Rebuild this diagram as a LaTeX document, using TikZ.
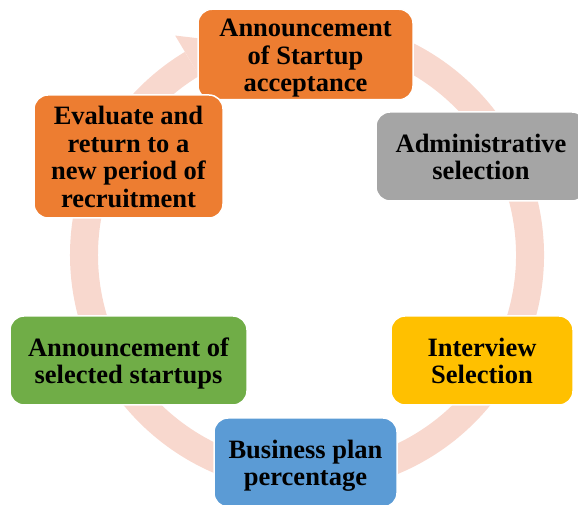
\documentclass[tikz,border=0pt]{standalone}
\usepackage{fontspec}
\setmainfont{Liberation Serif}
\usetikzlibrary{calc}
\definecolor{ringc}{RGB}{248,216,206}
\definecolor{c1}{RGB}{237,125,49}
\definecolor{c2}{RGB}{165,165,165}
\definecolor{c3}{RGB}{255,192,0}
\definecolor{c4}{RGB}{91,155,213}
\definecolor{c5}{RGB}{112,173,71}
\newcommand\mytopstrut{\rule{0pt}{27.5pt}}
\newcommand\mybotstrut{\rule[-8pt]{0pt}{8pt}}
\tikzset{
  stepbox/.style={rectangle, rounded corners=14pt, draw=white, line width=1.5pt,
    inner sep=0pt, align=center, minimum height=89pt,
    font=\bfseries\fontsize{26.5}{27.5}\selectfont, text=black},
  ring/.style={draw=ringc, line width=28pt}
}
\begin{document}
\begin{tikzpicture}[x=1pt,y=1pt]
\useasboundingbox (0,0) rectangle (578,505);
\coordinate (c) at (307,250);
% ring with arrow head
\draw[ring] ($(c)+(100:223pt)$) arc[start angle=100, end angle=-239, radius=223pt];
\fill[ringc] ($(c)+(121:256pt)$) -- ($(c)+(108:223pt)$) -- ($(c)+(121:190pt)$) -- cycle;
% boxes
\node[stepbox, fill=c1, minimum width=215pt] (acc) at (305.5,450.5) {\mytopstrut Announcement\\of Startup\\acceptance\mybotstrut};
\node[stepbox, fill=c2, minimum width=210pt] (adm) at (481,348.5) {\mytopstrut Administrative\\selection\mybotstrut};
\node[stepbox, fill=c3, minimum width=182pt] (int) at (482,144.5) {\mytopstrut Interview\\Selection\mybotstrut};
\node[stepbox, fill=c4, minimum width=183pt] (bus) at (305.5,42.5) {\mytopstrut Business plan\\percentage\mybotstrut};
\node[stepbox, fill=c5, minimum width=237pt] (sel) at (128.5,144.5) {\mytopstrut Announcement of\\selected startups\mybotstrut};
\node[stepbox, fill=c1, minimum width=189pt, minimum height=123pt] (eva) at (128.5,348.5) {\mytopstrut Evaluate and\\return to a\\new period of\\recruitment\mybotstrut};
\end{tikzpicture}
\end{document}
